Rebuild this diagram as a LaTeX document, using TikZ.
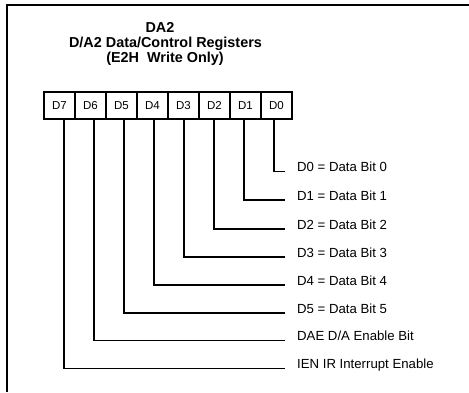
\documentclass[tikz,border=0pt]{standalone}
\usepackage{fontspec}
\setmainfont{Liberation Sans}
\begin{document}
\begin{tikzpicture}[x=1pt,y=-1pt,
  regbox/.style={draw,line width=1.1pt,minimum width=31pt,minimum height=27pt,inner sep=0pt,
    font=\fontsize{11.5}{13}\selectfont},
  bitlabel/.style={anchor=base west,inner sep=0pt,font=\fontsize{13.2}{15}\selectfont},
  titletext/.style={anchor=base,inner sep=0pt,font=\bfseries\fontsize{14.4}{17}\selectfont},
  wire/.style={line width=1.3pt}]
\useasboundingbox (0,0) rectangle (469,392);
% partial frame
\draw[line width=1.4pt] (7,392) -- (7,5) -- (469,5);
% titles
\node[titletext] (t1) at (160,32) {DA2};
\node[titletext] (t2) at (165.5,47) {D/A2 Data/Control Registers};
\node[titletext] (t3) at (165,62) {(E2H\ \ Write Only)};
% register boxes
\foreach \n [count=\i from 0] in {7,6,5,4,3,2,1,0}
  \node[regbox] (b\n) at (59.5+31*\i,105.5) {D\n};
% labels
\node[bitlabel] (l0) at (297,171.5) {D0 = Data Bit 0};
\node[bitlabel] (l1) at (297,200) {D1 = Data Bit 1};
\node[bitlabel] (l2) at (297,229) {D2 = Data Bit 2};
\node[bitlabel] (l3) at (297,257) {D3 = Data Bit 3};
\node[bitlabel] (l4) at (297,285) {D4 = Data Bit 4};
\node[bitlabel] (l5) at (297,313) {D5 = Data Bit 5};
\node[bitlabel] (l6) at (297,340.5) {DAE D/A Enable Bit};
\node[bitlabel] (l7) at (297,368.5) {IEN IR Interrupt Enable};
% connectors
\foreach \n/\s in {7/4.5,6/3.5,5/2.5,4/1.5,3/0.5,2/-0.5,1/-1.5,0/-2.5}
  \draw[wire] ([xshift=\s pt]b\n.south) |- ([xshift=-12pt]l\n.base west);
\end{tikzpicture}
\end{document}
